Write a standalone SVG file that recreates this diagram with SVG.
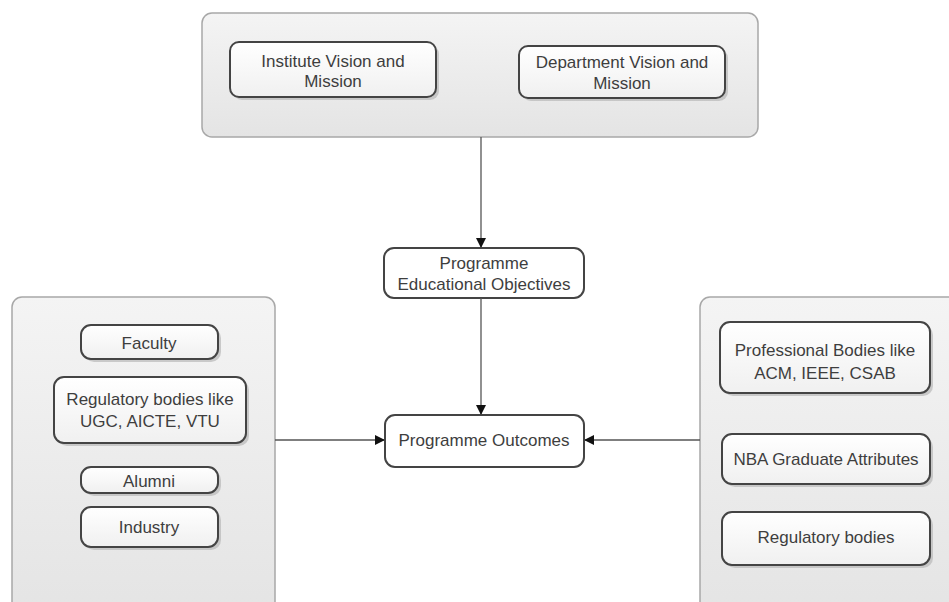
<svg xmlns="http://www.w3.org/2000/svg" width="949" height="602" viewBox="0 0 949 602">
<defs>
<linearGradient id="cg" x1="0" y1="0" x2="0" y2="1">
<stop offset="0" stop-color="#f4f4f4"/><stop offset="1" stop-color="#e4e4e4"/>
</linearGradient>
<linearGradient id="ng" x1="0" y1="0" x2="0" y2="1">
<stop offset="0" stop-color="#ffffff"/><stop offset="1" stop-color="#f0f0f0"/>
</linearGradient>
<marker id="ah" viewBox="0 0 10 10" refX="10" refY="5" markerWidth="10" markerHeight="10" markerUnits="userSpaceOnUse" orient="auto">
<path d="M0,0 L10,5 L0,10 z" fill="#111"/>
</marker>
</defs>
<style>
.cont{fill:url(#cg);stroke:#a8a8a8;stroke-width:1.5}
.node{fill:url(#ng);stroke:#444;stroke-width:2}
.shadow{fill:#b8b8b8;opacity:0.7}
.wnode{fill:#fff;stroke:#444;stroke-width:2}
text{font-family:"Liberation Sans",Arial,sans-serif;font-size:17px;fill:#3e3e3e;text-anchor:middle}
.edge{stroke:#555;stroke-width:1.3;fill:none;marker-end:url(#ah)}
</style>
<rect width="949" height="602" fill="#fff"/>

<g id="top-container">
<rect class="cont" x="202" y="13" width="556" height="124" rx="10"/>
</g>
<g id="institute">
<rect class="shadow" x="233" y="45" width="206" height="55" rx="9"/>
<rect class="node" x="230" y="42" width="206" height="55" rx="9"/>
<text x="333" y="67">Institute Vision and</text>
<text x="333" y="87">Mission</text>
</g>
<g id="department">
<rect class="shadow" x="522" y="49" width="206" height="52" rx="9"/>
<rect class="node" x="519" y="46" width="206" height="52" rx="9"/>
<text x="622" y="68">Department Vision and</text>
<text x="622" y="89">Mission</text>
</g>

<g id="left-container">
<rect class="cont" x="12" y="297" width="263" height="320" rx="10"/>
</g>
<g id="faculty">
<rect class="shadow" x="84" y="328" width="137" height="34" rx="10"/>
<rect class="node" x="81" y="325" width="137" height="34" rx="10"/>
<text x="149" y="349">Faculty</text>
</g>
<g id="regulatory-left">
<rect class="shadow" x="57" y="380" width="192" height="66" rx="10"/>
<rect class="node" x="54" y="377" width="192" height="66" rx="10"/>
<text x="150" y="405">Regulatory bodies like</text>
<text x="150" y="427">UGC, AICTE, VTU</text>
</g>
<g id="alumni">
<rect class="shadow" x="84" y="470" width="137" height="26" rx="10"/>
<rect class="node" x="81" y="467" width="137" height="26" rx="10"/>
<text x="149" y="487">Alumni</text>
</g>
<g id="industry">
<rect class="shadow" x="84" y="510" width="137" height="40" rx="10"/>
<rect class="node" x="81" y="507" width="137" height="40" rx="10"/>
<text x="149" y="533">Industry</text>
</g>

<g id="right-container">
<rect class="cont" x="700" y="297" width="270" height="320" rx="10"/>
</g>
<g id="professional">
<rect class="shadow" x="723" y="325" width="210" height="71" rx="10"/>
<rect class="node" x="720" y="322" width="210" height="71" rx="10"/>
<text x="825" y="356">Professional Bodies like</text>
<text x="825" y="379">ACM, IEEE, CSAB</text>
</g>
<g id="nba">
<rect class="shadow" x="725" y="437" width="208" height="50" rx="10"/>
<rect class="node" x="722" y="434" width="208" height="50" rx="10"/>
<text x="826" y="465">NBA Graduate Attributes</text>
</g>
<g id="regulatory-right">
<rect class="shadow" x="725" y="515" width="208" height="53" rx="10"/>
<rect class="node" x="722" y="512" width="208" height="53" rx="10"/>
<text x="826" y="543">Regulatory bodies</text>
</g>

<g id="peo">
<rect class="wnode" x="384" y="248" width="200" height="50" rx="10"/>
<text x="484" y="269">Programme</text>
<text x="484" y="290">Educational Objectives</text>
</g>
<g id="po">
<rect class="wnode" x="385" y="415" width="199" height="52" rx="10"/>
<text x="484" y="446">Programme Outcomes</text>
</g>

<g id="connectors">
<line class="edge" x1="481" y1="137" x2="481" y2="248"/>
<line class="edge" x1="481" y1="298" x2="481" y2="415"/>
<line class="edge" x1="275" y1="440" x2="385" y2="440"/>
<line class="edge" x1="700" y1="440" x2="584" y2="440"/>
</g>
</svg>
